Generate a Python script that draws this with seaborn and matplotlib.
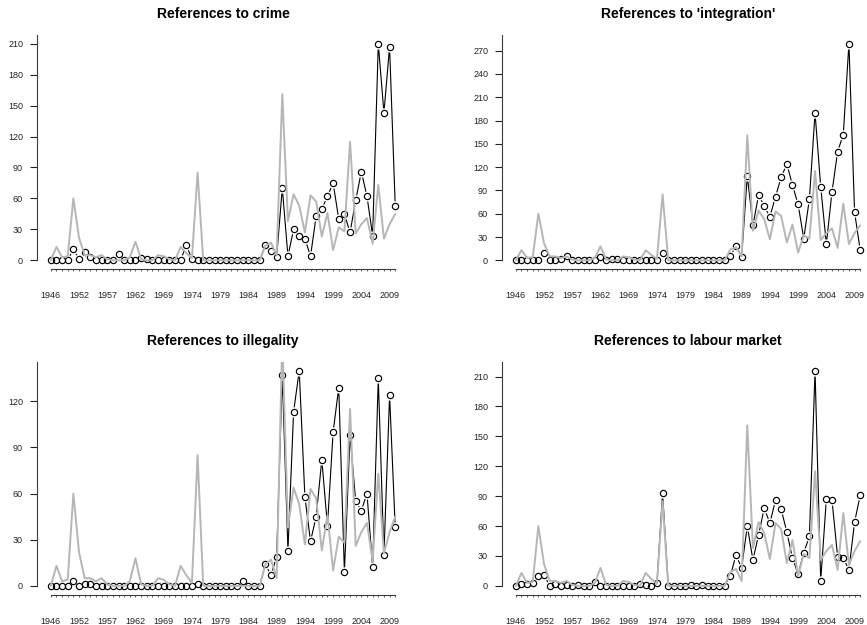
import matplotlib
matplotlib.use("Agg")
import pandas as pd
import matplotlib.pyplot as plt
import seaborn as sns

# 62 observations, only every 5th one carries a year label
positions = list(range(62))
tick_years = ["1946", "1952", "1957", "1962", "1969", "1974", "1979",
              "1984", "1989", "1994", "1999", "2004", "2009"]

# grey reference series (same in every panel)
total_refs = [0, 13, 3, 4, 60, 22, 5, 5, 3, 5, 1, 0, 0, 0, 3, 18, 1, 0, 0, 5,
              4, 1, 0, 13, 7, 2, 85, 0, 0, 0, 0, 0, 0, 0, 0, 0, 0, 0, 14, 17,
              5, 161, 38, 64, 53, 27, 63, 57, 23, 46, 10, 32, 28, 115, 26, 35, 41, 16,
              73, 21, 35, 45]

crime = [0, 0, 0, 0, 11, 1, 8, 3, 0, 0, 0, 0, 6, 0, 0, 0, 2, 1, 0, 0,
         0, 0, 0, 0, 15, 1, 0, 0, 0, 0, 0, 0, 0, 0, 0, 0, 0, 0, 15, 9,
         3, 70, 4, 30, 24, 21, 4, 43, 50, 62, 75, 40, 45, 27, 58, 86, 62, 24,
         210, 143, 207, 53]

integration = [0, 0, 0, 0, 1, 10, 0, 1, 2, 6, 0, 1, 0, 0, 0, 4, 1, 2, 2, 0,
               0, 0, 0, 1, 1, 0, 9, 0, 0, 0, 0, 0, 0, 0, 0, 0, 0, 0, 5, 19,
               4, 109, 45, 84, 70, 56, 82, 107, 124, 97, 72, 28, 79, 190, 95, 21, 88, 140,
               162, 279, 62, 13]

illegality = [0, 0, 0, 0, 3, 0, 1, 1, 0, 0, 0, 0, 0, 0, 0, 0, 0, 0, 0, 0,
              0, 0, 0, 0, 0, 0, 1, 0, 0, 0, 0, 0, 0, 0, 3, 0, 0, 0, 14, 7,
              19, 137, 23, 113, 140, 58, 29, 45, 82, 39, 100, 129, 9, 98, 55, 49, 60, 12,
              135, 20, 124, 38]

labour = [0, 2, 2, 3, 10, 11, 0, 2, 0, 1, 0, 1, 0, 0, 4, 0, 0, 0, 0, 0,
          0, 0, 2, 1, 0, 3, 93, 0, 0, 0, 0, 1, 0, 1, 0, 0, 0, 0, 10, 31,
          18, 60, 26, 51, 78, 63, 86, 77, 54, 28, 12, 33, 50, 216, 5, 87, 86, 29,
          28, 16, 64, 91]

titles = ["References to crime", "References to 'integration'",
          "References to illegality", "References to labour market"]

sns.set_style("white")
plt.rcParams["font.family"] = ["Liberation Sans", "DejaVu Sans"]

fig = plt.figure(figsize=(8.67, 6.25), dpi=100)
W, H = 867, 625
# axes boxes in pixels: left, top, width, height
boxes = [(37, 35, 372, 234), (502, 35, 372, 234),
         (37, 362, 372, 232.5), (502, 362, 372, 232.5)]

axis_col = "#3a3a3a"


def draw_panel(ax, values, title):
    df = pd.DataFrame({"pos": positions, "refs": values, "total": total_refs})
    top = max(values)

    # black line, white gaps around the points, open circles, grey line on top
    sns.lineplot(data=df, x="pos", y="refs", color="black", lw=0.8,
                 estimator=None, ax=ax, zorder=1)
    ax.plot(df["pos"], df["refs"], ls="none", marker="o", ms=7.4,
            mfc="white", mec="none", zorder=2)
    ax.plot(df["pos"], df["refs"], ls="none", marker="o", ms=4.5,
            mfc="none", mec="black", mew=0.85, zorder=3)
    sns.lineplot(data=df, x="pos", y="total", color="#b6b6b6", lw=1.4,
                 estimator=None, ax=ax, zorder=4)

    ax.set_xlim(-0.04 * 61, 61 * 1.04)
    ax.set_ylim(-0.04 * top, 1.04 * top)

    ax.set_xticks(positions[::5])
    ax.set_xticklabels(tick_years)
    ax.set_xticks(positions, minor=True)
    ax.set_yticks(list(range(0, int(1.04 * top) + 1, 30)))

    for side in ["top", "right"]:
        ax.spines[side].set_visible(False)
    ax.spines["left"].set_bounds(0, 1.04 * top)
    ax.spines["bottom"].set_bounds(0, 61)
    for side in ["left", "bottom"]:
        ax.spines[side].set_color(axis_col)
        ax.spines[side].set_linewidth(0.8)

    ax.tick_params(axis="y", which="major", length=5, width=0.8, pad=5,
                   labelsize=6.5, colors="#222222", left=True)
    ax.tick_params(axis="x", which="both", length=1.2, width=0.5, pad=15,
                   labelsize=6.5, colors="#222222", bottom=True)
    ax.set_xlabel("")
    ax.set_ylabel("")
    ax.grid(False)
    ax.set_title(title, fontsize=10, fontweight="bold", pad=12, color="black")


for box, values, title in zip(boxes, [crime, integration, illegality, labour], titles):
    l, t, w, h = box
    ax = fig.add_axes([l / W, 1 - (t + h) / H, w / W, h / H])
    draw_panel(ax, values, title)

fig.savefig("out.png", dpi=100)
